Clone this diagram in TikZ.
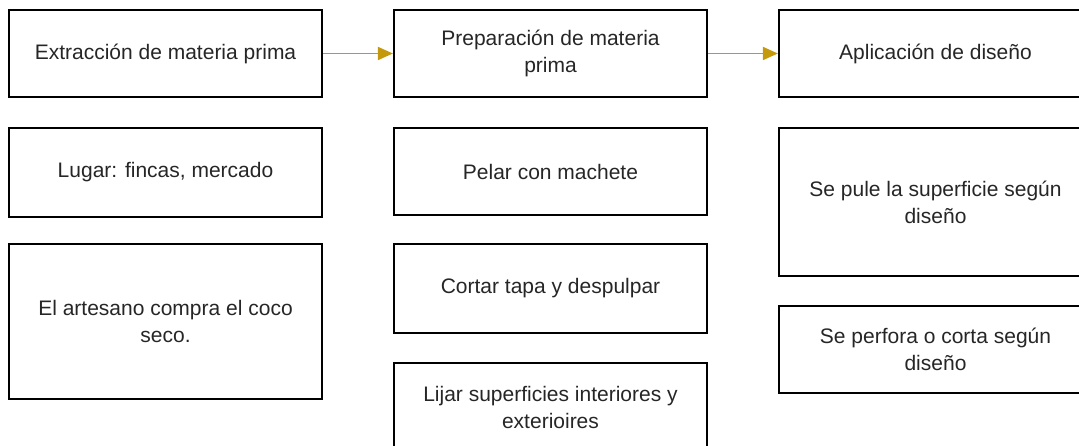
\documentclass[tikz,border=0pt]{standalone}
\usepackage{fontspec}
\setmainfont{Liberation Sans}
\usepackage{tikz}
\usetikzlibrary{arrows.meta}
\definecolor{oro}{HTML}{C49A0C}
\tikzset{>={Triangle[length=15pt,width=13pt]}}
\tikzset{
    paso/.style={rectangle,draw,line width=2.2pt,minimum width=313pt,inner sep=0pt,align=center,
        font=\fontsize{21}{27}\selectfont,text=black!85},
    flujo/.style={->,draw=oro,fill=oro,line width=1.8pt},
}
\begin{document}
\begin{tikzpicture}[x=1pt,y=-1pt]
            \useasboundingbox (0,0) rectangle (1079,446);
            \node[paso,minimum height=87pt] (ext) at (165.5,53.5) {Extracción de materia prima};
            \node[paso,minimum height=89pt] (lugar) at (165.5,172.5) {Lugar: fincas, mercado};
            \node[paso,minimum height=155pt] (compra) at (165.5,321.5) {El artesano compra el coco\\seco.};
            \node[paso,minimum height=87pt] (prep) at (550.5,53.5) {Preparación de materia\\prima};
            \node[paso,minimum height=87pt] (pelar) at (550.5,171.5) {Pelar con machete};
            \node[paso,minimum height=89pt] (cortar) at (550.5,288.5) {Cortar tapa  y despulpar};
            \node[paso,minimum height=88pt] (lijar) at (550.5,407) {Lijar superficies interiores y\\exterioires};
            \node[paso,minimum height=87pt] (apl) at (935.5,53.5) {Aplicación de diseño};
            \node[paso,minimum height=148pt] (pule) at (935.5,202) {Se pule la superficie según\\diseño};
            \node[paso,minimum height=87pt] (perfora) at (935.5,349.5) {Se perfora o corta según\\diseño};
            \draw[flujo] (ext) -- (prep);
            \draw[flujo] (prep) -- (apl);
        \end{tikzpicture}
\end{document}
